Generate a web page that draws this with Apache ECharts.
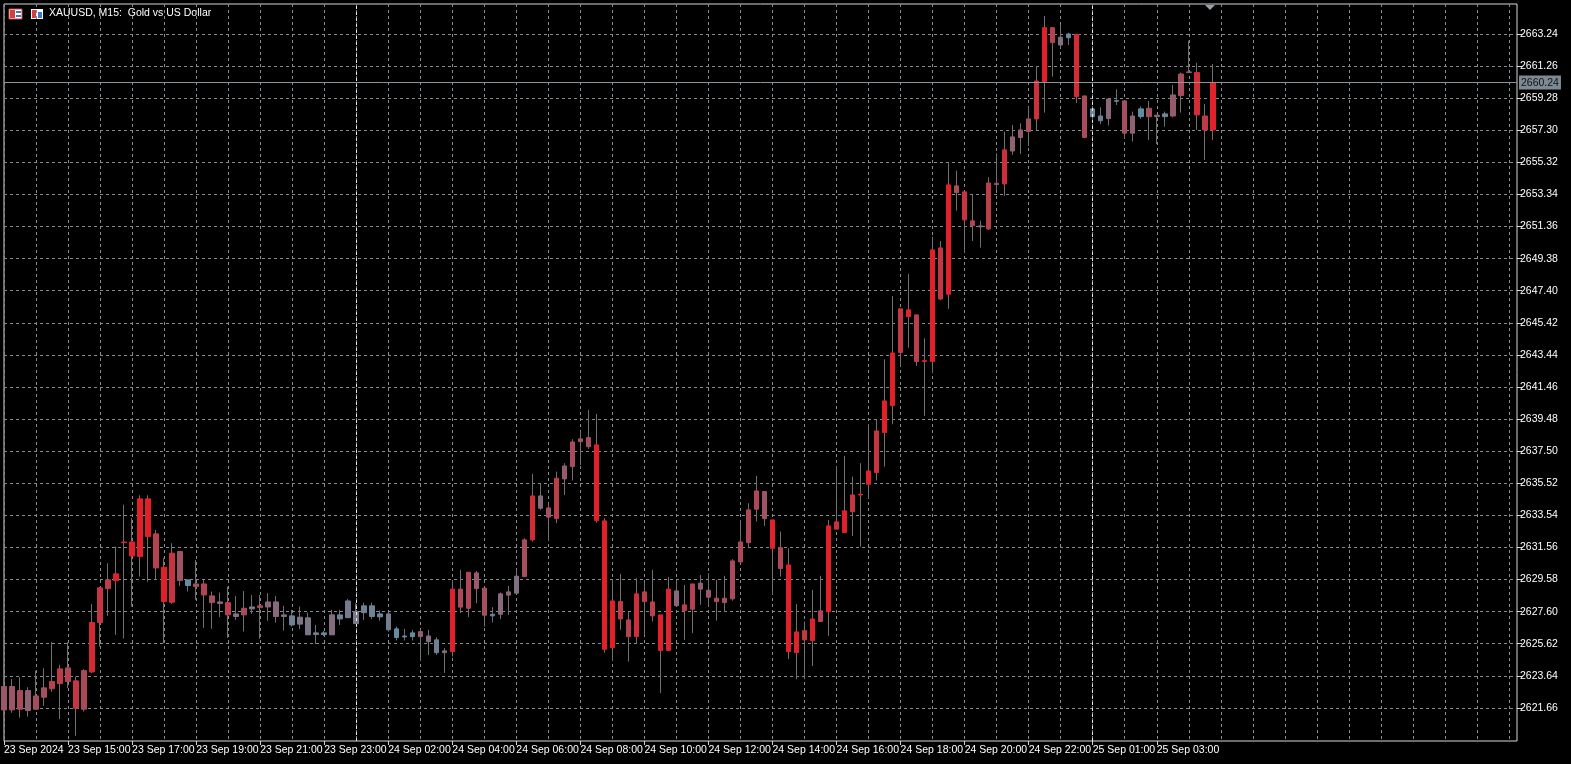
<!DOCTYPE html>
<html><head><meta charset="utf-8">
<script src="https://cdn.jsdelivr.net/npm/echarts@6/dist/echarts.min.js"></script>
<style>html,body{margin:0;padding:0;background:#000;}#c{width:1571px;height:764px;}</style>
</head><body><div id="c"></div>
<script>
// OHLC (XAUUSD M15)
const opens = [2622.98,2621.54,2622.73,2622.73,2621.58,2622.32,2622.84,2623.16,2624.13,2623.33,2621.58,2623.88,2626.93,2629.02,2629.52,2631.86,2631.90,2631.00,2634.56,2632.40,2630.34,2628.18,2631.31,2629.56,2629.15,2629.31,2628.57,2628.20,2628.16,2627.46,2627.40,2627.77,2627.85,2627.89,2628.20,2627.40,2627.34,2626.83,2627.22,2626.29,2626.19,2626.17,2627.40,2627.23,2627.60,2627.54,2627.96,2627.46,2627.46,2626.54,2626.10,2626.06,2626.37,2626.10,2625.86,2625.07,2625.14,2628.99,2627.81,2629.99,2629.05,2627.44,2627.44,2628.62,2628.74,2629.76,2632.03,2634.74,2634.00,2633.34,2635.79,2636.55,2638.09,2638.34,2637.89,2633.20,2625.38,2628.22,2627.09,2626.06,2628.82,2628.20,2627.40,2625.20,2628.88,2628.02,2627.75,2629.36,2628.92,2628.43,2628.16,2628.39,2630.67,2631.86,2633.92,2635.01,2633.26,2631.55,2630.48,2625.07,2626.43,2625.81,2626.99,2627.59,2632.69,2632.48,2633.77,2634.80,2635.46,2636.18,2638.65,2640.31,2643.58,2646.22,2645.91,2643.03,2643.03,2650.04,2647.18,2653.87,2653.50,2651.71,2651.40,2651.21,2653.95,2653.99,2656.02,2656.85,2657.22,2658.00,2660.30,2663.63,2662.56,2663.01,2663.22,2659.42,2658.14,2658.18,2658.02,2659.09,2659.11,2657.12,2658.14,2658.66,2658.14,2658.14,2658.18,2659.44,2660.86,2660.86,2658.18,2657.32];
const closes = [2621.54,2622.98,2621.58,2621.50,2622.40,2622.90,2623.29,2624.07,2623.29,2621.64,2623.96,2626.93,2629.07,2629.56,2629.93,2631.90,2631.04,2634.56,2632.23,2630.30,2628.22,2631.21,2629.52,2629.21,2629.31,2628.63,2628.16,2628.10,2627.40,2627.30,2627.81,2627.89,2627.96,2628.20,2627.30,2627.30,2626.78,2627.26,2626.17,2626.19,2626.29,2627.40,2627.15,2628.26,2626.86,2627.96,2627.30,2627.28,2626.48,2626.00,2626.04,2626.29,2626.06,2625.75,2625.07,2625.18,2628.99,2627.88,2630.03,2629.02,2627.38,2627.34,2628.70,2628.82,2629.79,2632.03,2634.74,2633.98,2633.43,2635.83,2636.59,2638.07,2638.26,2637.78,2633.22,2625.28,2628.26,2627.15,2626.06,2628.70,2628.22,2627.34,2625.20,2628.99,2627.97,2627.67,2629.31,2628.99,2628.49,2628.22,2628.43,2630.73,2631.90,2633.88,2635.05,2633.34,2631.51,2630.26,2625.14,2626.35,2625.86,2627.15,2627.65,2632.89,2633.14,2633.82,2634.80,2634.85,2636.28,2638.75,2640.60,2643.56,2646.28,2645.80,2643.03,2643.09,2649.92,2646.89,2653.93,2653.45,2651.77,2651.42,2651.34,2654.05,2654.03,2656.09,2656.89,2657.32,2658.00,2660.34,2663.63,2662.71,2663.04,2663.24,2659.37,2656.85,2658.62,2657.89,2659.23,2659.13,2657.12,2658.18,2658.62,2658.14,2658.23,2658.31,2659.48,2660.77,2660.90,2658.25,2657.32,2660.24];
const lows = [2621.36,2621.36,2621.06,2621.13,2621.54,2621.79,2622.65,2620.97,2622.88,2619.94,2621.44,2623.80,2625.44,2627.34,2626.17,2625.94,2627.91,2629.76,2629.45,2629.60,2625.65,2628.08,2629.19,2628.84,2628.33,2626.60,2626.54,2627.26,2625.98,2627.09,2626.37,2627.46,2625.92,2627.03,2626.93,2626.43,2626.68,2626.52,2626.17,2625.61,2626.10,2626.17,2626.78,2627.20,2626.86,2627.09,2627.14,2627.05,2626.37,2625.82,2625.82,2625.82,2624.58,2624.93,2624.93,2623.82,2624.83,2627.51,2627.26,2628.12,2626.68,2626.93,2627.14,2627.40,2628.70,2629.76,2631.92,2633.88,2631.98,2633.06,2634.80,2635.69,2636.65,2637.64,2633.09,2625.07,2624.58,2626.48,2624.52,2625.65,2626.17,2626.99,2622.57,2625.20,2627.91,2625.86,2626.27,2628.02,2627.91,2627.05,2627.57,2628.28,2630.59,2631.51,2633.16,2632.89,2628.63,2629.76,2624.67,2623.43,2623.43,2624.25,2626.99,2626.10,2632.69,2632.48,2632.27,2631.61,2634.54,2635.69,2636.55,2639.16,2642.72,2643.89,2642.76,2639.68,2642.31,2646.83,2646.28,2652.34,2649.75,2650.47,2650.06,2651.15,2653.62,2653.25,2655.78,2655.84,2656.33,2657.32,2658.39,2660.61,2662.36,2662.56,2658.97,2656.85,2657.89,2657.69,2657.59,2658.86,2656.76,2656.60,2658.00,2656.70,2656.44,2657.52,2658.10,2658.39,2660.86,2657.32,2655.47,2656.70];
const highs = [2623.39,2623.45,2623.56,2622.94,2623.96,2624.11,2625.72,2624.32,2625.72,2623.59,2624.05,2628.08,2629.11,2630.59,2631.61,2634.20,2633.37,2634.78,2634.78,2632.64,2630.90,2631.82,2631.35,2629.56,2630.79,2629.56,2628.84,2628.78,2629.15,2628.57,2628.88,2628.63,2628.63,2628.74,2628.57,2627.96,2627.71,2627.91,2627.54,2626.78,2626.41,2627.71,2627.71,2628.39,2628.12,2628.16,2628.16,2627.67,2627.54,2626.68,2626.54,2626.48,2626.48,2626.48,2626.02,2625.36,2629.56,2630.18,2630.03,2630.11,2629.05,2627.88,2628.78,2629.19,2630.18,2632.13,2636.10,2635.48,2634.29,2636.24,2636.76,2638.24,2638.77,2640.05,2639.80,2633.37,2629.56,2629.93,2627.57,2629.66,2629.45,2630.18,2627.40,2629.73,2629.56,2629.25,2629.31,2629.87,2629.97,2629.56,2629.81,2630.84,2633.26,2634.29,2635.98,2635.01,2633.26,2632.54,2631.51,2628.08,2626.99,2628.94,2629.81,2633.26,2636.59,2637.21,2635.93,2636.76,2639.18,2639.43,2643.17,2647.08,2646.28,2648.44,2645.91,2644.47,2650.74,2650.47,2655.27,2654.81,2653.50,2653.31,2651.72,2654.40,2655.88,2657.22,2657.63,2657.73,2658.76,2661.27,2664.35,2663.63,2663.80,2663.32,2663.22,2659.42,2658.62,2658.72,2659.28,2659.83,2659.11,2658.45,2658.76,2659.11,2658.23,2658.45,2660.10,2660.86,2662.83,2661.47,2658.91,2661.39];
const priceTicks = [2621.66,2623.64,2625.62,2627.60,2629.58,2631.56,2633.54,2635.52,2637.50,2639.48,2641.46,2643.44,2645.42,2647.40,2649.38,2651.36,2653.34,2655.32,2657.30,2659.28,2661.26,2663.24];
const lastPrice = 2660.24;
const firstLabel = '23 Sep 2024';

// time categories: 15-minute bars from 23 Sep 13:00, market closed 00:00-00:59
const MON = ['Jan','Feb','Mar','Apr','May','Jun','Jul','Aug','Sep','Oct','Nov','Dec'];
const categories = [];
let t = Date.UTC(2024, 8, 23, 13, 0);
while (categories.length < opens.length) {
  const d = new Date(t);
  if (d.getUTCHours() !== 0) {
    categories.push(d.getUTCDate() + ' ' + MON[d.getUTCMonth()] + ' ' +
      String(d.getUTCHours()).padStart(2,'0') + ':' + String(d.getUTCMinutes()).padStart(2,'0'));
  }
  t += 15 * 60000;
}
const N = opens.length;
const TOTAL = 190;
const axisCats = categories.slice();
for (let i = N; i < TOTAL; i++) axisCats.push('·' + i);

function lerp(a, b, k) { return a.map((v, i) => Math.round(v + (b[i] - v) * k)); }
function candleColor(i) {
  const r = highs[i] - lows[i];
  const k = Math.max(0, Math.min(1, (r - 0.8) / 4));
  const c0 = [100, 140, 160], c1 = [160, 82, 98], c2 = [226, 32, 42];
  const c = k < 0.35 ? lerp(c0, c1, k / 0.35) : lerp(c1, c2, (k - 0.35) / 0.65);
  return 'rgb(' + c.join(',') + ')';
}

const wickData = opens.map((o, i) => [o, closes[i], lows[i], highs[i]]);
const bodyData = opens.map((o, i) => {
  const col = candleColor(i);
  return { value: [o, closes[i], Math.min(o, closes[i]), Math.max(o, closes[i])],
    itemStyle: { color: col, color0: col, borderColor: col, borderColor0: col } };
});

const daySep = [44, 136];
const chart = echarts.init(document.getElementById('c'), null, { renderer: 'canvas' });
const font = 'Liberation Sans';
chart.setOption({
  backgroundColor: '#000',
  animation: false,
  grid: { left: 4, right: 54, top: 4, bottom: 23, show: true, borderColor: '#d8d8d8', borderWidth: 1 },
  xAxis: {
    type: 'category', data: axisCats, boundaryGap: false,
    axisLine: { show: false },
    axisTick: { show: true, length: 4, lineStyle: { color: '#d8d8d8' }, interval: (i) => i % 8 === 0 && i < N },
    axisLabel: { color: '#ffffff', fontFamily: font, fontSize: 10.5, align: 'left', margin: 4,
      interval: (i) => i % 8 === 0 && i < N,
      formatter: (v, i) => i === 0 ? firstLabel : v },
    splitLine: { show: true, interval: (i) => i % 4 === 0, lineStyle: { color: '#858b93', type: [3, 3], width: 1 } }
  },
  yAxis: {
    type: 'value', position: 'right', min: 2619.62, max: 2665.09, scale: true,
    axisLine: { show: false },
    axisTick: { show: true, length: 5, customValues: priceTicks, lineStyle: { color: '#d8d8d8' } },
    axisLabel: { color: '#ffffff', fontFamily: font, fontSize: 10.5, margin: 3, customValues: priceTicks,
      formatter: (v) => v.toFixed(2) },
    splitLine: { show: true, lineStyle: { color: '#858b93', type: [3, 3], width: 1 } }
  },
  graphic: [
    { type: 'rect', shape: { x: 9, y: 9, width: 13, height: 10 }, style: { fill: '#fff', stroke: '#d04040', lineWidth: 1 } },
    { type: 'rect', shape: { x: 10, y: 10, width: 5, height: 8 }, style: { fill: '#d04040' } },
    { type: 'rect', shape: { x: 16, y: 11, width: 5, height: 2 }, style: { fill: '#3a7bc8' } },
    { type: 'rect', shape: { x: 16, y: 15, width: 5, height: 2 }, style: { fill: '#3a7bc8' } },
    { type: 'rect', shape: { x: 31, y: 9, width: 12, height: 10 }, style: { fill: '#fff' } },
    { type: 'rect', shape: { x: 32, y: 10, width: 4, height: 8 }, style: { fill: '#d04040' } },
    { type: 'rect', shape: { x: 38, y: 12, width: 4, height: 6 }, style: { fill: '#3a7bc8' } },
    { type: 'text', left: 49, top: 8, style: { text: 'XAUUSD, M15:  Gold vs US Dollar', fill: '#ffffff', font: '10.5px "Liberation Sans"' } },
    { type: 'polygon', shape: { points: [[1205, 5], [1215, 5], [1210, 10]] }, style: { fill: '#9aa0a8' } }
  ],
  series: [
    {
      type: 'candlestick', data: wickData, barWidth: 1,
      itemStyle: { color: '#6f6f6f', color0: '#6f6f6f', borderColor: '#6f6f6f', borderColor0: '#6f6f6f', borderWidth: 1 },
      markLine: {
        symbol: 'none', silent: true,
        data: [
          { yAxis: lastPrice, lineStyle: { color: '#8c949c', type: 'solid', width: 1 },
            label: { show: true, position: 'end', distance: 2, formatter: lastPrice.toFixed(2), color: '#101010',
              backgroundColor: '#7d8a94', padding: [2, 2, 1, 2], fontFamily: font, fontSize: 10.5 } },
          ...daySep.map(i => ({ xAxis: categories[i], lineStyle: { color: '#e8e8e8', type: [3, 3], width: 1 }, label: { show: false } }))
        ]
      }
    },
    {
      type: 'candlestick', data: bodyData, barWidth: 5,
      itemStyle: { borderWidth: 1 }
    }
  ]
});
</script></body></html>
